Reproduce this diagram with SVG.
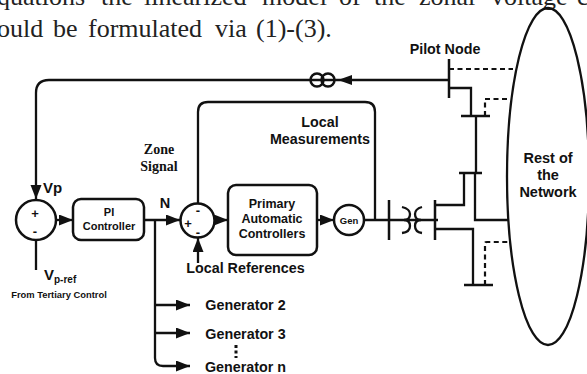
<svg xmlns="http://www.w3.org/2000/svg" width="587" height="374" viewBox="0 0 587 374">
<style>
text{font-family:"Liberation Sans",Arial,sans-serif;font-weight:bold;fill:#111;text-anchor:middle}
.body{font-family:"Liberation Serif","Times New Roman",serif;font-weight:normal;font-size:26px;fill:#222;text-anchor:start}
.serif{font-family:"Liberation Serif","Times New Roman",serif}
.l{fill:none;stroke:#111;stroke-width:2.300}
.t{fill:none;stroke:#111;stroke-width:2.500}
.d{fill:none;stroke:#111;stroke-width:2.200;stroke-dasharray:5 3.500}
.b{fill:#fff;stroke:#111;stroke-width:2.500}
</style>
<defs>
<marker id="a" markerUnits="userSpaceOnUse" markerWidth="16" markerHeight="12" refX="14" refY="5.500" orient="auto"><path d="M0 0L14 5.500L0 11Z" fill="#111"/></marker>
</defs>
<text class="body" y="5"><tspan x="-3">quations</tspan><tspan x="101">the</tspan><tspan x="144">linearized</tspan><tspan x="262">model</tspan><tspan x="339">of</tspan><tspan x="374">the</tspan><tspan x="419">zonal</tspan><tspan x="491">voltage</tspan><tspan x="577">c</tspan></text>
<text class="body" y="36.500"><tspan x="-3">ould</tspan><tspan x="53">be</tspan><tspan x="88">formulated</tspan><tspan x="215">via</tspan><tspan x="256">(1)-(3).</tspan></text>
<g id="connectors">
<path class="l" d="M448 80H49Q36 80 36 93V199" marker-end="url(#a)"/>
<path class="l" d="M36 240V270"/>
<path class="l" d="M56 220H73" marker-end="url(#a)"/>
<path class="l" d="M144 220H180" marker-end="url(#a)"/>
<path class="l" d="M214 220H228" marker-end="url(#a)"/>
<path class="l" d="M317 220H334" marker-end="url(#a)"/>
<path class="l" d="M198 203V112Q198 102 208 102H365Q375 102 375 112V220"/>
<path class="l" d="M198 263V238" marker-end="url(#a)"/>
<path class="l" d="M155 220V358Q155 366 163 366H190" marker-end="url(#a)"/>
<path class="l" d="M155 305H190" marker-end="url(#a)"/>
<path class="l" d="M155 333H190" marker-end="url(#a)"/>
<path class="l" d="M364 220H438"/>
<path class="t" d="M389 200V240M435 200V240M449 59V98M461 116H490M459 173H482M464 285H493"/>
<path class="l" d="M449 88H471V116M476 116V173M464 173V205H435M475 173V220H508M435 229H473V285"/>
<path class="d" d="M449 69H513M485 116V99H510M485 285V243Q485 242 487 242H508"/>
<path class="l" d="M402 207Q410 209 410 214Q410 220 404 220Q410 220 410 226Q410 232 402 233M422 207Q415 209 415 214Q415 220 421 220Q415 220 415 226Q415 232 422 233"/>
<path d="M338 80L352 75V85Z" fill="#111"/>
</g>
<g id="ct"><circle class="t" cx="317" cy="80" r="6.500"/><circle class="t" cx="328" cy="80" r="6.500"/></g>
<g id="sum1"><circle class="b" cx="36" cy="220" r="20"/><text x="35" y="218" font-size="13">+</text><text x="35" y="236" font-size="13">-</text></g>
<g id="pi"><rect class="b" x="73" y="199" width="71" height="41" rx="8"/><text x="109" y="216" font-size="11">PI</text><text x="109" y="230" font-size="11">Controller</text></g>
<g id="sum2"><circle class="b" cx="197.500" cy="220.500" r="17"/><text x="188" y="228" font-size="13">+</text><text x="198" y="215" font-size="13">-</text><text x="198" y="237" font-size="13">-</text></g>
<g id="primary"><rect class="b" x="228" y="185" width="89" height="70" rx="8"/><text x="272" y="208" font-size="12.500">Primary</text><text x="272" y="223" font-size="12.500">Automatic</text><text x="272" y="238" font-size="12.500">Controllers</text></g>
<g id="gen"><circle class="b" cx="349" cy="220" r="15"/><text x="349" y="223.500" font-size="9.500">Gen</text></g>
<g id="network"><ellipse cx="548" cy="176.500" rx="41" ry="168.500" fill="none" stroke="#111" stroke-width="2.300"/><text x="548" y="163" font-size="14.500">Rest of</text><text x="548" y="180" font-size="14.500">the</text><text x="548" y="197" font-size="14.500">Network</text></g>
<g id="labels">
<text x="445" y="54" font-size="14.300">Pilot Node</text>
<text x="159" y="154" font-size="14" class="serif">Zone</text>
<text x="159" y="171" font-size="14" class="serif">Signal</text>
<text x="320" y="127" font-size="14.300">Local</text>
<text x="320" y="144" font-size="14.300">Measurements</text>
<text x="43" y="193" font-size="15" style="text-anchor:start">Vp</text>
<text x="165" y="208" font-size="14.500">N</text>
<text x="44" y="280" font-size="15" style="text-anchor:start">V<tspan font-size="10" dy="3">p-ref</tspan></text>
<text x="59" y="298" font-size="9.400">From Tertiary Control</text>
<text x="245.500" y="273" font-size="14.300">Local References</text>
<text x="245.500" y="310" font-size="14.300">Generator 2</text>
<text x="245.500" y="339" font-size="14.300">Generator 3</text>
<text x="245.500" y="372" font-size="14.300">Generator n</text>
<path d="M236 345V358" fill="none" stroke="#111" stroke-width="3" stroke-dasharray="3 2.500"/>
</g>
</svg>
